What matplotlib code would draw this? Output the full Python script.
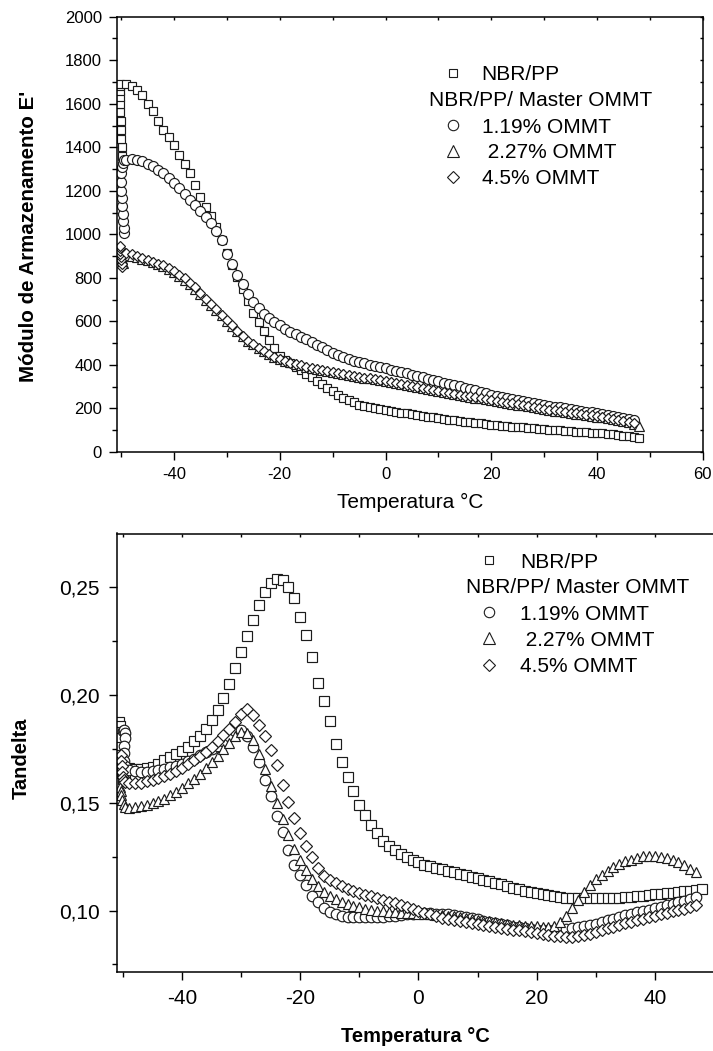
import numpy as np
import matplotlib
matplotlib.use("Agg")
import matplotlib.pyplot as plt
from matplotlib.ticker import MultipleLocator, FixedLocator, FixedFormatter

plt.rcParams['font.family'] = ['Liberation Sans', 'DejaVu Sans']
plt.rcParams['axes.unicode_minus'] = False

# temperature grid (deg C) shared by all series
temp = np.arange(-49, 49)

# ---- storage modulus E' (top panel) ----
# transient points recorded at the start of each run (around -50 C)
e_sq_start_t = [-49.8, -49.9, -50.0, -50.1, -50.1, -50.2, -50.2, -50.3, -50.3, -50.3, -50.2]
e_sq_start = [1360, 1400, 1440, 1480, 1520, 1560, 1600, 1630, 1660, 1680, 1692]
e_ci_start_t = [-49.4, -49.5, -49.6, -49.7, -49.8, -49.9, -50.0, -50.0, -50.0, -49.9, -49.7, -49.4]
e_ci_start = [1005, 1030, 1060, 1095, 1130, 1165, 1200, 1240, 1280, 1310, 1330, 1340]
e_tr_start_t = [-49.7, -49.8, -49.9, -50.0, -50.1, -50.2]
e_tr_start = [870, 885, 900, 915, 928, 938]
e_di_start_t = [-49.8, -49.9, -50.0, -50.1, -50.2, -50.3, -50.3, -50.2]
e_di_start = [850, 865, 880, 895, 910, 925, 938, 945]

e_nbr_pp = [1690, 1680, 1665, 1640, 1600, 1565, 1520, 1480, 1445, 1410,
            1365, 1325, 1280, 1225, 1170, 1125, 1085, 1035, 975, 913,
            858, 803, 748, 692, 637, 596, 555, 515, 476, 440,
            424, 408, 392, 376, 360, 344, 328, 312, 296, 280,
            263, 250, 238, 228, 218, 212, 207, 202, 197,
            193,
            189, 185, 181, 177, 173, 169, 165, 162, 159, 156,
            152, 149, 146, 143, 140, 137, 134, 131, 128, 125,
            123, 121, 119, 117, 115, 113, 111, 109, 107, 105,
            103, 101, 99, 97, 96, 94, 92, 91, 89, 87,
            85, 83, 81, 78, 75, 72, 68, 64]
e_119 = [1343, 1345, 1342, 1335, 1325, 1312, 1297, 1280, 1260, 1238,
         1213, 1186, 1158, 1133, 1108, 1082, 1050, 1015, 972, 912,
         862, 814, 770, 725, 690, 662, 636, 616, 598, 582,
         567, 553, 541, 529, 517, 505, 493, 481, 469, 457,
         446, 435, 426, 418, 412, 407, 402, 396, 391,
         385,
         379, 373, 367, 361, 355, 349, 343, 337, 331, 325,
         319, 313, 307, 301, 295, 289, 283, 277, 270, 263,
         258, 253, 248, 243, 238, 234, 229, 225, 221, 217,
         213, 209, 205, 201, 197, 193, 190, 186, 182, 178,
         174, 170, 166, 161, 157, 152, 147, np.nan]
e_227 = [905, 902, 896, 889, 880, 872, 863, 853, 841, 826,
         810, 792, 772, 750, 725, 700, 676, 652, 628, 603,
         579, 556, 533, 512, 494, 477, 462, 449, 438, 428,
         420, 412, 405, 398, 392, 386, 381, 376, 371, 366,
         362, 358, 354, 350, 346, 342, 338, 334, 330,
         326,
         321, 316, 312, 307, 303, 298, 294, 289, 285, 280,
         276, 271, 267, 263, 258, 254, 250, 246, 242, 238,
         234, 230, 226, 222, 218, 214, 210, 206, 202, 198,
         194, 190, 187, 183, 180, 176, 173, 170, 166, 163,
         159, 155, 151, 146, 141, 136, 129, 119]
e_45 = [913, 908, 900, 892, 882, 874, 866, 857, 846, 830,
        815, 798, 778, 756, 730, 703, 680, 656, 631, 606,
        582, 558, 534, 512, 495, 478, 462, 449, 437, 427,
        419, 411, 404, 398, 392, 386, 380, 375, 371, 366,
        362, 358, 354, 350, 346, 342, 338, 334, 330,
        326,
        321, 317, 312, 308, 303, 299, 294, 290, 285, 281,
        276, 272, 268, 263, 259, 255, 251, 247, 243, 239,
        235, 231, 227, 223, 219, 215, 211, 207, 203, 199,
        195, 192, 188, 185, 181, 178, 175, 171, 168, 165,
        161, 157, 153, 148, 143, 138, 132, np.nan]

# ---- tan delta (bottom panel) ----
t_sq_start_t = [-50.6, -50.5, -50.5, -50.4, -50.4, -50.3, -50.2, -50.1, -50.0, -49.8, -49.6]
t_sq_start = [0.1875, 0.1855, 0.183, 0.180, 0.176, 0.172, 0.168, 0.164, 0.161, 0.162, 0.164]
t_ci_start_t = [-50.0, -49.8, -49.7, -49.7, -49.8, -49.9, -49.8, -49.6]
t_ci_start = [0.1835, 0.1838, 0.1825, 0.180, 0.1765, 0.173, 0.1695, 0.167]
t_tr_start_t = [-50.5, -50.4, -50.3, -50.1, -49.9, -49.6]
t_tr_start = [0.1575, 0.1555, 0.1535, 0.1515, 0.1495, 0.148]
t_di_start_t = [-50.4, -50.3, -50.2, -50.1, -50.0, -49.8, -49.6]
t_di_start = [0.172, 0.1695, 0.167, 0.1645, 0.162, 0.1605, 0.1595]

t_nbr_pp = [0.1660, 0.1655, 0.1655, 0.1660, 0.1668, 0.1678, 0.1698, 0.1712, 0.1727, 0.1742,
            0.1760, 0.1785, 0.1812, 0.1845, 0.1886, 0.1932, 0.1988, 0.2050, 0.2126, 0.2202,
            0.2272, 0.2347, 0.2418, 0.2480, 0.2522, 0.2538, 0.2532, 0.2502, 0.2452, 0.2362,
            0.2278, 0.2175, 0.2055, 0.1972, 0.1878, 0.1772, 0.1690, 0.1620, 0.1555, 0.1489,
            0.1442, 0.1398, 0.1358, 0.1325, 0.1299, 0.1280, 0.1262, 0.1247, 0.1234,
            0.1224,
            0.1213, 0.1207, 0.1199, 0.1191, 0.1184, 0.1177, 0.1170, 0.1164, 0.1156, 0.1149,
            0.1143, 0.1136, 0.1129, 0.1122, 0.1114, 0.1105, 0.1098, 0.1092, 0.1087, 0.1082,
            0.1077, 0.1072, 0.1067, 0.1063, 0.1060, 0.1058, 0.1057, 0.1057, 0.1057, 0.1057,
            0.1058, 0.1058, 0.1059, 0.1060, 0.1062, 0.1064, 0.1067, 0.1070, 0.1072, 0.1075,
            0.1078, 0.1080, 0.1083, 0.1086, 0.1089, 0.1092, 0.1095, 0.1098]
t_119 = [0.1652, 0.1648, 0.1645, 0.1645, 0.1648, 0.1652, 0.1658, 0.1666, 0.1673, 0.1681,
         0.1692, 0.1705, 0.1720, 0.1734, 0.1748, 0.1766, 0.1788, 0.1810, 0.1832, 0.1838,
         0.1812, 0.1759, 0.1690, 0.1605, 0.1530, 0.1441, 0.1365, 0.1283, 0.1212, 0.1164,
         0.1118, 0.1068, 0.1038, 0.1012, 0.0993, 0.0983, 0.0977, 0.0972, 0.0970, 0.0969,
         0.0968, 0.0969, 0.0970, 0.0971, 0.0974, 0.0977, 0.0980, 0.0984, 0.0986,
         0.0987,
         0.0988, 0.0987, 0.0986, 0.0985, 0.0984, 0.0979, 0.0975, 0.0970, 0.0965, 0.0960,
         0.0954, 0.0948, 0.0943, 0.0937, 0.0931, 0.0926, 0.0922, 0.0918, 0.0915, 0.0912,
         0.0910, 0.0909, 0.0910, 0.0912, 0.0915, 0.0918, 0.0922, 0.0928, 0.0934, 0.0940,
         0.0948, 0.0956, 0.0963, 0.0970, 0.0978, 0.0986, 0.0993, 0.0998, 0.1004, 0.1011,
         0.1018, 0.1024, 0.1031, 0.1038, 0.1046, 0.1055, 0.1064, np.nan]
t_227 = [0.1476, 0.1480, 0.1485, 0.1492, 0.1500, 0.1508, 0.1520, 0.1535, 0.1552, 0.1570,
         0.1590, 0.1612, 0.1636, 0.1660, 0.1690, 0.1718, 0.1748, 0.1777, 0.1808, 0.1828,
         0.1826, 0.1790, 0.1725, 0.1655, 0.1580, 0.1500, 0.1425, 0.1352, 0.1285, 0.1235,
         0.1190, 0.1148, 0.1115, 0.1088, 0.1068, 0.1052, 0.1040, 0.1030, 0.1022, 0.1015,
         0.1009, 0.1004, 0.1000, 0.0997, 0.0994, 0.0992, 0.0990, 0.0988, 0.0987,
         0.0986,
         0.0985, 0.0983, 0.0981, 0.0979, 0.0976, 0.0973, 0.0970, 0.0966, 0.0962, 0.0958,
         0.0954, 0.0950, 0.0946, 0.0942, 0.0938, 0.0935, 0.0932, 0.0930, 0.0928, 0.0927,
         0.0926, 0.0925, 0.0927, 0.0945, 0.0976, 0.1011, 0.1049, 0.1087, 0.1118, 0.1145,
         0.1167, 0.1186, 0.1203, 0.1217, 0.1228, 0.1237, 0.1245, 0.1252, 0.1254, 0.1253,
         0.1249, 0.1243, 0.1236, 0.1224, 0.1211, 0.1193, 0.1178, np.nan]
t_45 = [0.1592, 0.1590, 0.1594, 0.1600, 0.1608, 0.1616, 0.1626, 0.1636, 0.1650, 0.1664,
        0.1680, 0.1697, 0.1716, 0.1737, 0.1760, 0.1787, 0.1815, 0.1843, 0.1875, 0.1912,
        0.1935, 0.1908, 0.1862, 0.1810, 0.1745, 0.1676, 0.1582, 0.1504, 0.1428, 0.1362,
        0.1300, 0.1248, 0.1198, 0.1160, 0.1142, 0.1127, 0.1113, 0.1102, 0.1091, 0.1082,
        0.1074, 0.1066, 0.1057, 0.1049, 0.1041, 0.1033, 0.1025, 0.1017, 0.1008,
        0.0999,
        0.0991, 0.0982, 0.0974, 0.0967, 0.0962, 0.0957, 0.0952, 0.0946, 0.0941, 0.0936,
        0.0932, 0.0928, 0.0924, 0.0920, 0.0916, 0.0912, 0.0908, 0.0905, 0.0902, 0.0897,
        0.0893, 0.0888, 0.0884, 0.0881, 0.0879, 0.0879, 0.0882, 0.0886, 0.0893, 0.0901,
        0.0909, 0.0917, 0.0925, 0.0933, 0.0941, 0.0948, 0.0955, 0.0962, 0.0969, 0.0976,
        0.0983, 0.0990, 0.0997, 0.1003, 0.1009, 0.1015, 0.1024, np.nan]

legend_labels = ['NBR/PP', 'NBR/PP/ Master OMMT', '1.19% OMMT', ' 2.27% OMMT', '4.5% OMMT']
top_xticks = [-40, -20, 0, 20, 40, 60]
bottom_xticks = [-40, -20, 0, 20, 40]
minor_xticks = [-50, -30, -10, 10, 30, 50]
tan_ticks = [0.10, 0.15, 0.20, 0.25]
tan_ticklabels = ['0,10', '0,15', '0,20', '0,25']

W, H = 713, 1051
fig = plt.figure(figsize=(W / 100, H / 100), dpi=100)


def fx(px):
    return px / W


def fy(py):
    return 1 - py / H


EC = '#1c1c1c'
marker_kw = dict(linestyle='none', markerfacecolor='white', markeredgecolor=EC, markeredgewidth=0.85)


def style_axes(ax, tick_size, pad):
    for s in ax.spines.values():
        s.set_linewidth(1.1)
    ax.tick_params(which='both', direction='out', width=1.0, labelsize=tick_size,
                   colors='black', pad=pad, top=True, right=True,
                   labeltop=False, labelright=False)
    ax.tick_params(which='major', length=6)
    ax.tick_params(which='minor', length=3.5)
    # short light ticks pointing inward on the opposite spines
    for tick in ax.xaxis.get_major_ticks() + ax.xaxis.get_minor_ticks():
        tick.tick2line.set_marker(3)
        tick.tick2line.set_markersize(2.5)
        tick.tick2line.set_color('#777777')
    for tick in ax.yaxis.get_major_ticks() + ax.yaxis.get_minor_ticks():
        tick.tick2line.set_marker(0)
        tick.tick2line.set_markersize(2.5)
        tick.tick2line.set_color('#777777')


def draw_legend(rows_y, mx, tx, hx, sizes):
    markers = ['s', None, 'o', '^', 'D']
    for lab, y, m, ms in zip(legend_labels, rows_y, markers, sizes):
        if m is None:
            fig.text(fx(hx), fy(y + 7.5), lab, fontsize=15, ha='left', va='baseline')
            continue
        fig.lines.append(plt.Line2D([fx(mx)], [fy(y)], transform=fig.transFigure,
                                    marker=m, markersize=ms, linestyle='none',
                                    markerfacecolor='white', markeredgecolor=EC,
                                    markeredgewidth=0.8))
        fig.text(fx(tx), fy(y + 7.5), lab, fontsize=15, ha='left', va='baseline')


# ================= top panel =================
ax1 = fig.add_axes([fx(116.7), fy(452), fx(702.7) - fx(116.7), fy(16.7) - fy(452)])
ax1.plot(np.r_[e_sq_start_t, temp], np.r_[e_sq_start, e_nbr_pp], marker='s', markersize=5.8, **marker_kw)
ax1.plot(np.r_[e_ci_start_t, temp], np.r_[e_ci_start, e_119], marker='o', markersize=7.2, **marker_kw)
ax1.plot(np.r_[e_tr_start_t, temp], np.r_[e_tr_start, e_227], marker='^', markersize=7.2, **marker_kw)
ax1.plot(np.r_[e_di_start_t, temp], np.r_[e_di_start, e_45], marker='D', markersize=5.5, **marker_kw)
ax1.set_xlim(-50.85, 60)
ax1.set_ylim(0, 2000)
ax1.xaxis.set_major_locator(FixedLocator(top_xticks))
ax1.xaxis.set_minor_locator(FixedLocator(minor_xticks))
ax1.yaxis.set_major_locator(MultipleLocator(200))
ax1.yaxis.set_minor_locator(MultipleLocator(100))
style_axes(ax1, 12, 4.5)
ax1.set_xlabel('Temperatura \u00b0C', fontsize=15, va='center')
ax1.xaxis.set_label_coords(0.5, -0.115)
ax1.set_ylabel("M\u00f3dulo de Armazenamento E'", fontsize=14.8, fontweight='bold', va='center')
ax1.yaxis.set_label_coords(-0.151, 0.495)

# ================= bottom panel =================
# axes extends past the right edge of the figure (the original is cropped there)
ax2 = fig.add_axes([fx(116.5), fy(972), fx(773) - fx(116.5), fy(533.5) - fy(972)])
ax2.plot(np.r_[t_sq_start_t, temp], np.r_[t_sq_start, t_nbr_pp], marker='s', markersize=6.8, **marker_kw)
ax2.plot(np.r_[t_ci_start_t, temp], np.r_[t_ci_start, t_119], marker='o', markersize=7.6, **marker_kw)
ax2.plot(np.r_[t_tr_start_t, temp], np.r_[t_tr_start, t_227], marker='^', markersize=7.6, **marker_kw)
ax2.plot(np.r_[t_di_start_t, temp], np.r_[t_di_start, t_45], marker='D', markersize=6.0, **marker_kw)
ax2.set_xlim(-51.1, 60)
ax2.set_ylim(0.0715, 0.275)
ax2.xaxis.set_major_locator(FixedLocator(bottom_xticks))
ax2.xaxis.set_minor_locator(FixedLocator(minor_xticks))
ax2.yaxis.set_major_locator(FixedLocator(tan_ticks))
ax2.yaxis.set_major_formatter(FixedFormatter(tan_ticklabels))
ax2.yaxis.set_minor_locator(FixedLocator([0.075, 0.125, 0.175, 0.225]))
style_axes(ax2, 15, 6)
ax2.set_xlabel('Temperatura \u00b0C', fontsize=14.5, fontweight='bold', va='center')
ax2.xaxis.set_label_coords(0.4547, -0.1475)
ax2.set_ylabel('Tandelta', fontsize=14.5, fontweight='bold', va='center')
ax2.yaxis.set_label_coords(-0.1455, 0.488)

# legends (Origin-style, header row without symbol)
draw_legend([72.7, 99, 125, 150.7, 176.7], 452.7, 481.7, 429.3, [5.5, 0, 7.5, 9, 6.5])
draw_legend([560, 585.5, 612.2, 638, 664.5], 489.3, 520, 466, [5.5, 0, 7.5, 9, 6.5])

fig.savefig('out.png', dpi=100)
